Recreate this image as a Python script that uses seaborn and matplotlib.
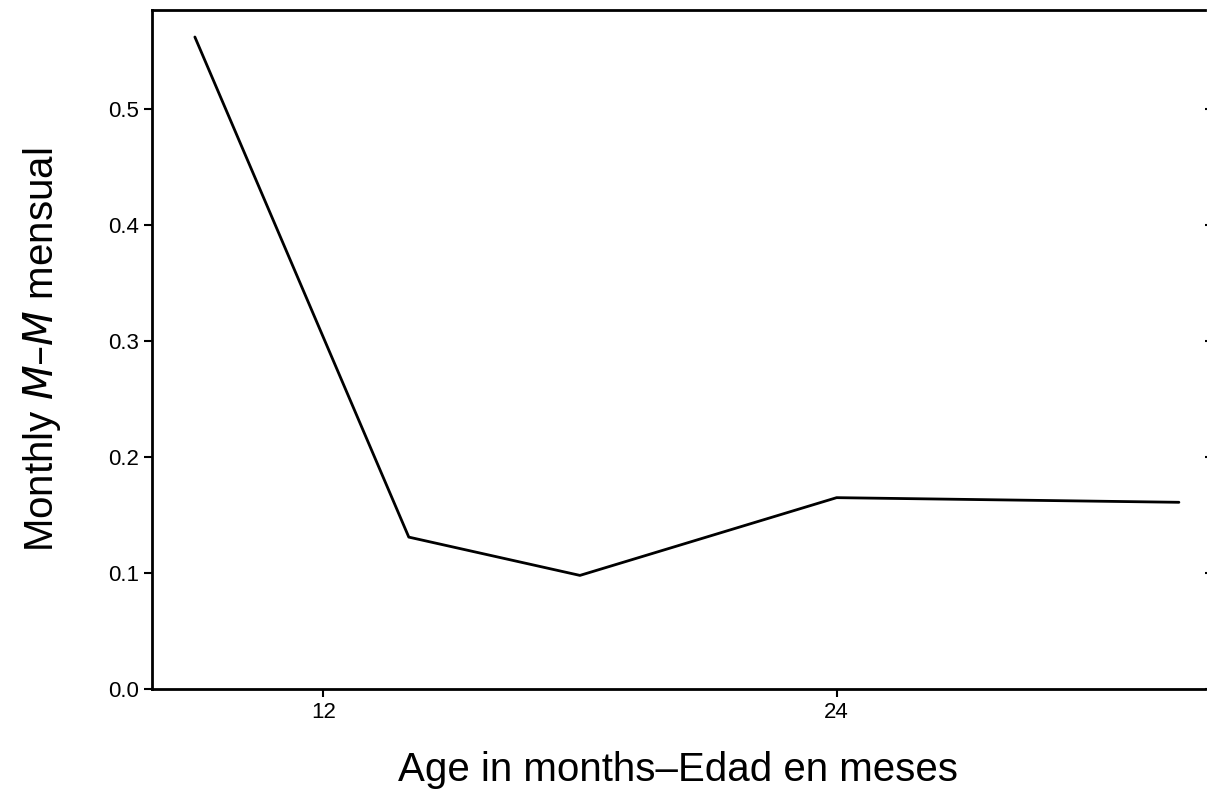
import matplotlib
matplotlib.use('Agg')
import matplotlib.pyplot as plt
import seaborn as sns
import pandas as pd

age_months = [9, 14, 18, 24, 32]
monthly_mm = [0.562, 0.131, 0.098, 0.165, 0.161]
x_ticks = [12, 24]
y_ticks = [0.0, 0.1, 0.2, 0.3, 0.4, 0.5]

sns.set_style('ticks')
plt.rcParams['font.family'] = ['Liberation Sans', 'DejaVu Sans']
plt.rcParams['text.color'] = 'black'
plt.rcParams['axes.labelcolor'] = 'black'
plt.rcParams['xtick.color'] = 'black'
plt.rcParams['ytick.color'] = 'black'
plt.rcParams['axes.edgecolor'] = 'black'

df = pd.DataFrame({'age': age_months, 'mm': monthly_mm})
fig = plt.figure(figsize=(12.07, 7.93), dpi=100)
ax = fig.add_axes([0.126, 0.131, 0.872, 0.856])
sns.lineplot(data=df, x='age', y='mm', color='black', lw=2, ax=ax)

ax.set_xlim(8, 32.6)
ax.set_ylim(0, 0.585)
ax.set_xticks(x_ticks)
ax.set_yticks(y_ticks)
ax.set_yticklabels([f'{v:.1f}' for v in y_ticks])
ax.tick_params(axis='both', labelsize=16, width=1.5, length=6)
ax.tick_params(axis='y', right=True)
ax.spines['right'].set_visible(False)
for s in ['left', 'bottom', 'top']:
    ax.spines[s].set_linewidth(2)
ax.set_xlabel('Age in months\u2013Edad en meses', fontsize=29, labelpad=20)
ax.set_ylabel('Monthly $\\mathit{M}$\u2013$\\mathit{M}$ mensual', fontsize=29, labelpad=32)

plt.savefig('out.png', dpi=100)
